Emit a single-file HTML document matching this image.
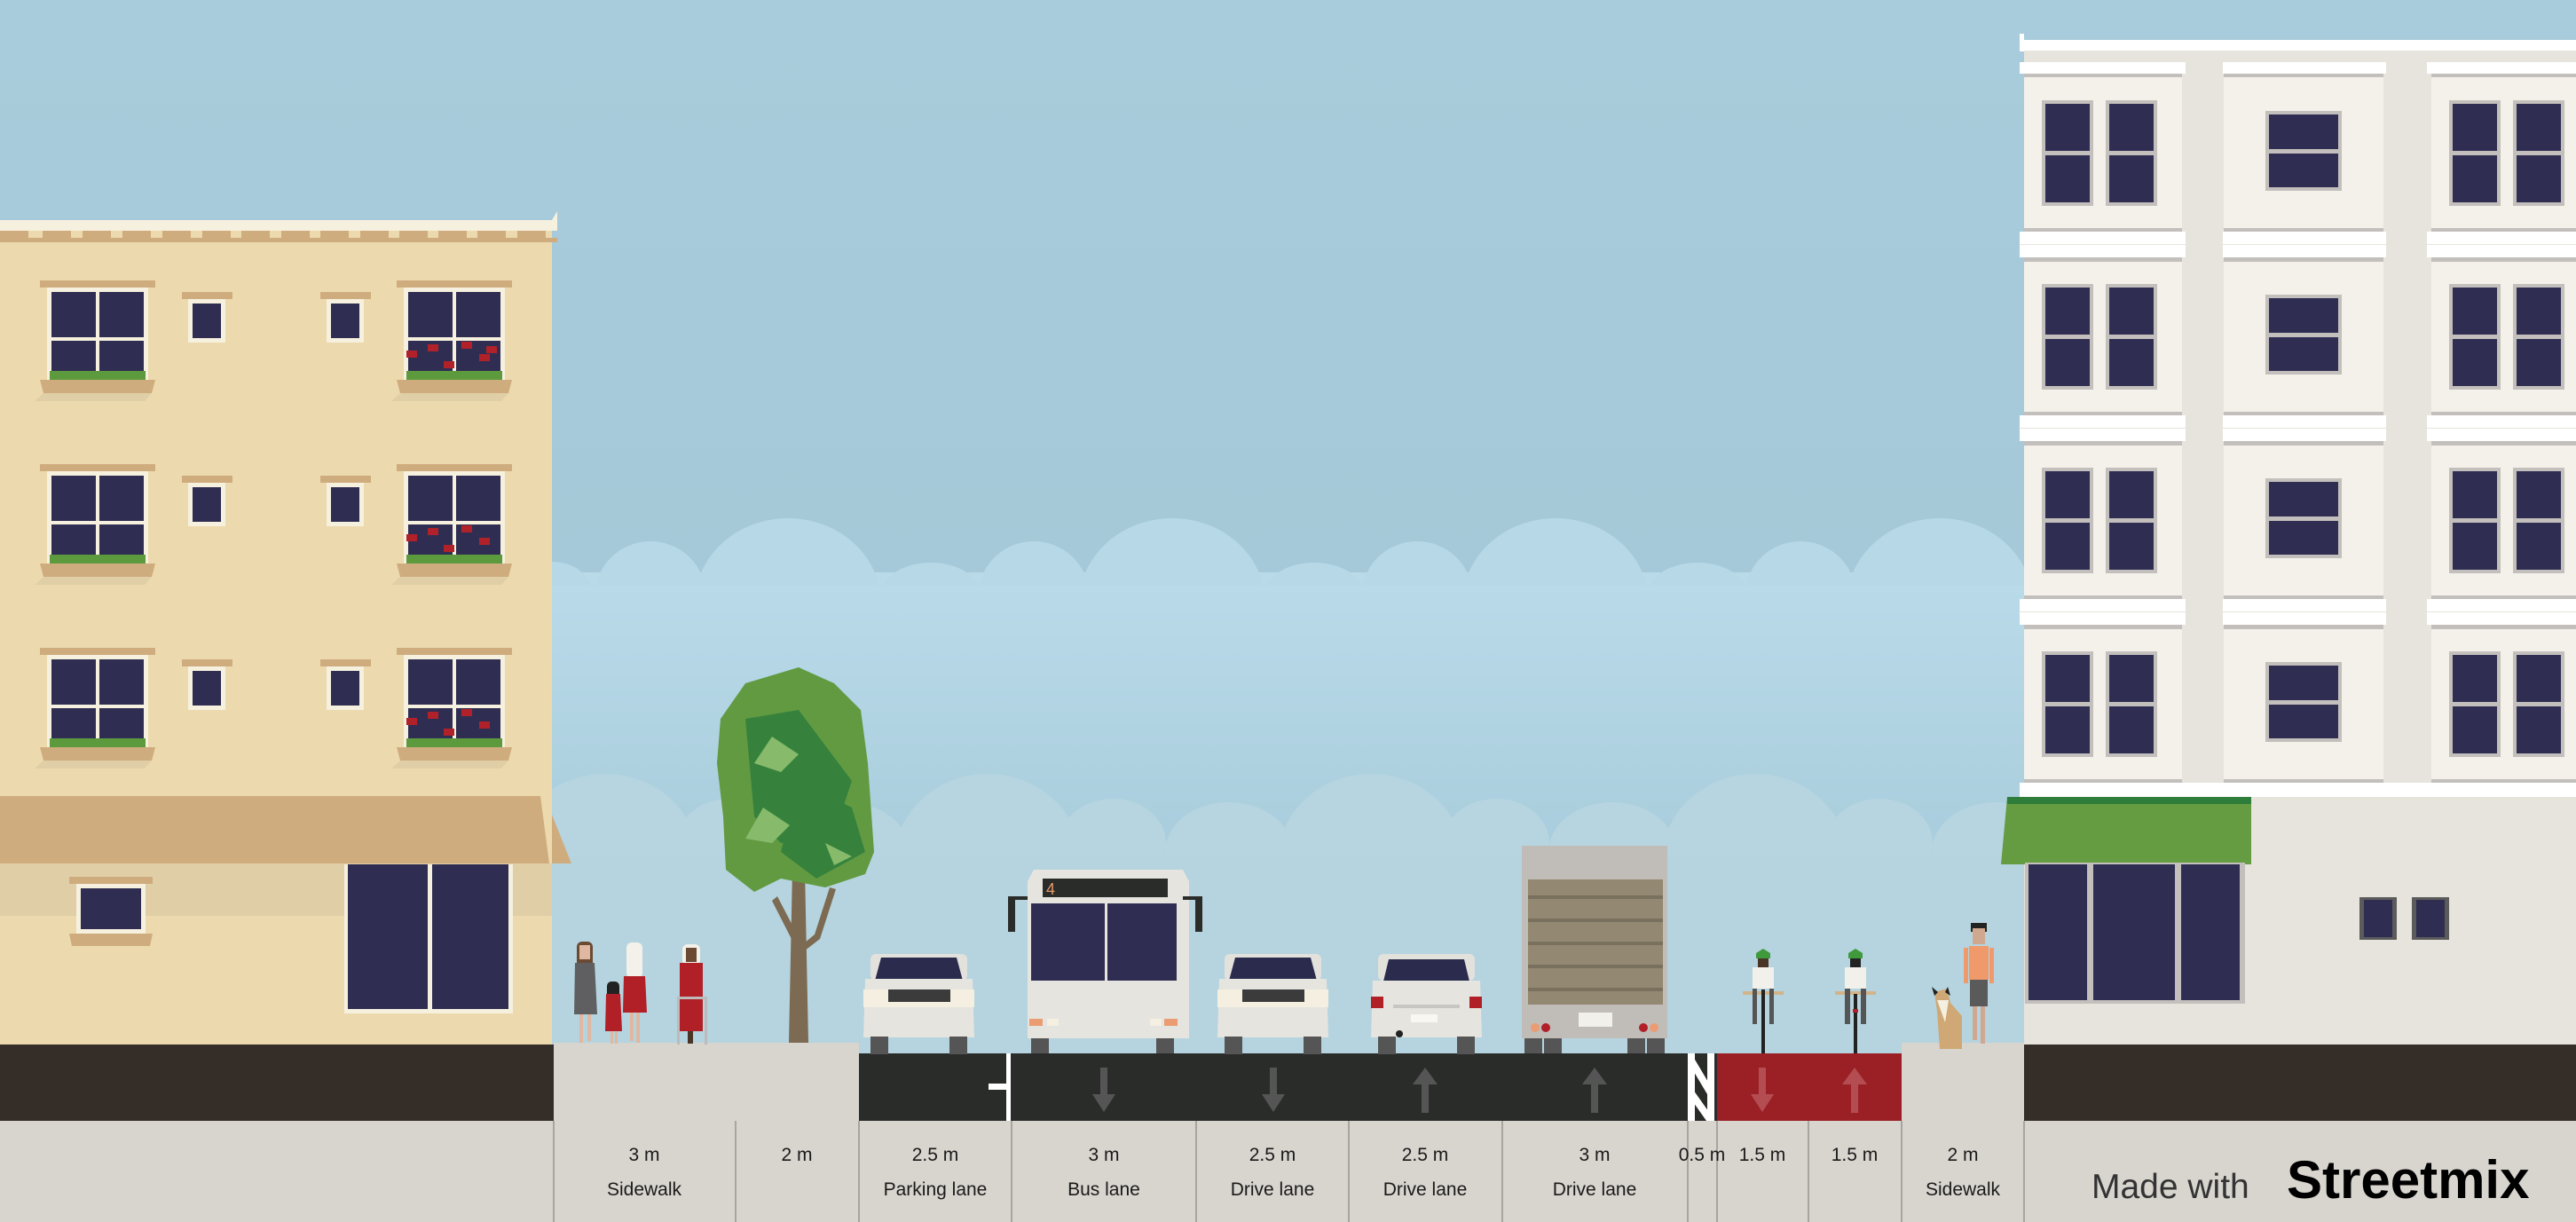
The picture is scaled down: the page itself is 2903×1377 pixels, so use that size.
<!DOCTYPE html>
<html><head><meta charset="utf-8"><style>
html,body{margin:0;padding:0;background:#a6cadb;}
svg{display:block}
text{font-family:"Liberation Sans",sans-serif;}
</style></head><body>
<svg width="2903" height="1377" viewBox="0 0 2903 1377" xmlns="http://www.w3.org/2000/svg">
<defs>
<linearGradient id="sky" x1="0" y1="0" x2="0" y2="1"><stop offset="0" stop-color="#a8ccdb"/><stop offset="1" stop-color="#a2c5d5"/></linearGradient>
<linearGradient id="c1" x1="0" y1="0" x2="0" y2="1"><stop offset="0" stop-color="#b9dae9"/><stop offset="1" stop-color="#a9cddc"/></linearGradient>
<linearGradient id="c2" x1="0" y1="0" x2="0" y2="1"><stop offset="0" stop-color="#b9d7e2"/><stop offset="1" stop-color="#b3d4e0"/></linearGradient>
<pattern id="hatch" width="20" height="40" patternUnits="userSpaceOnUse"><rect width="20" height="40" fill="#2a2c2a"/></pattern>
<g id="bigwin"><rect x="-8" y="-8" width="130" height="8" fill="#cfac7e"/><rect x="0" y="0" width="114" height="104" fill="#f6f0df"/><rect x="5" y="5" width="104" height="94" fill="#2f2e52"/><rect x="55" y="5" width="4" height="94" fill="#f6f0df"/><rect x="5" y="56" width="104" height="4" fill="#f6f0df"/><polygon points="-8,104 122,104 118,119 -4,119" fill="#cfac7e"/><polygon points="-4,119 118,119 110,128 -14,128" fill="#e0cea7"/><rect x="3" y="94" width="108" height="10" fill="#5d9a3e"/></g>
<g id="smwin"><rect x="-7" y="-8" width="57" height="8" fill="#cfac7e"/><rect x="0" y="0" width="42" height="49" fill="#f6f0df"/><rect x="5" y="5" width="32" height="39" fill="#2f2e52"/></g>
<g id="rwin2"><rect x="0" y="0" width="58" height="119" fill="#c3bfbc"/><rect x="4" y="4" width="50" height="111" fill="#2f2e52"/><rect x="4" y="57" width="50" height="5" fill="#c3bfbc"/><rect x="72" y="0" width="58" height="119" fill="#c3bfbc"/><rect x="76" y="4" width="50" height="111" fill="#2f2e52"/><rect x="76" y="57" width="50" height="5" fill="#c3bfbc"/></g>
<g id="rwin1"><rect x="0" y="0" width="86" height="90" fill="#c3bfbc"/><rect x="4" y="4" width="78" height="82" fill="#2f2e52"/><rect x="4" y="43" width="78" height="5" fill="#c3bfbc"/></g>
<g id="car"><rect x="8" y="0" width="109" height="30" rx="6" fill="#e3e1dc"/><polygon points="20,4 105,4 112,30 13,30" fill="#2a2b4d"/><polygon points="2,28 123,28 125,94 0,94" fill="#e6e4df"/><rect x="0" y="40" width="125" height="20" fill="#f4efe0"/><rect x="28" y="40" width="70" height="14" fill="#3b3b3b"/><rect x="8" y="93" width="20" height="20" fill="#555"/><rect x="97" y="93" width="20" height="20" fill="#555"/></g>
<g id="pers"><rect x="-6" y="0" width="14" height="20" fill="#6b4a34" rx="5"/><rect x="-4" y="4" width="10" height="14" fill="#e0b7a0"/></g>
</defs>
<rect width="2903" height="1377" fill="url(#sky)"/>
<!-- clouds layer 1 -->
<g fill="url(#c1)">
<rect x="600" y="645" width="1700" height="560"/>
</g>
<g fill="#b7d8e7">
<ellipse cx="888" cy="680" rx="105" ry="96"/><ellipse cx="1321" cy="680" rx="105" ry="96"/><ellipse cx="1753" cy="680" rx="105" ry="96"/><ellipse cx="2186" cy="680" rx="105" ry="96"/>
<ellipse cx="733" cy="670" rx="62" ry="60"/><ellipse cx="1165" cy="670" rx="62" ry="60"/><ellipse cx="1597" cy="670" rx="62" ry="60"/><ellipse cx="2029" cy="670" rx="62" ry="60"/>
<ellipse cx="1049" cy="668" rx="55" ry="34"/><ellipse cx="1481" cy="668" rx="55" ry="34"/><ellipse cx="1913" cy="668" rx="55" ry="34"/><ellipse cx="622" cy="668" rx="45" ry="35"/>
</g>
<rect x="600" y="660" width="1700" height="300" fill="url(#c1)"/>
<!-- clouds layer 2 -->
<g fill="#b6d5e1">
<ellipse cx="682" cy="970" rx="105" ry="98"/><ellipse cx="1113" cy="970" rx="105" ry="98"/><ellipse cx="1545" cy="970" rx="105" ry="98"/><ellipse cx="1978" cy="970" rx="105" ry="98"/>
<ellipse cx="1254" cy="950" rx="60" ry="50"/><ellipse cx="1385" cy="960" rx="72" ry="56"/><ellipse cx="1686" cy="950" rx="60" ry="50"/><ellipse cx="1817" cy="960" rx="72" ry="56"/><ellipse cx="822" cy="950" rx="60" ry="50"/><ellipse cx="953" cy="960" rx="72" ry="56"/><ellipse cx="2118" cy="950" rx="60" ry="50"/><ellipse cx="2249" cy="960" rx="72" ry="56"/>
</g>
<rect x="600" y="965" width="1700" height="240" fill="#b5d4df"/>

<!-- left building -->
<rect x="0" y="260" width="622" height="920" fill="#ecdaae"/>
<rect x="0" y="248" width="628" height="12" fill="#f6f0df"/>
<polygon points="628,238 628,248 622,248" fill="#f6f0df"/>
<g fill="#cfac7e">
<rect x="0" y="268" width="628" height="5"/>
<rect x="0" y="260" width="32" height="8"/><rect x="48" y="260" width="32" height="8"/><rect x="93" y="260" width="32" height="8"/><rect x="138" y="260" width="32" height="8"/><rect x="183" y="260" width="32" height="8"/><rect x="228" y="260" width="32" height="8"/><rect x="272" y="260" width="32" height="8"/><rect x="317" y="260" width="32" height="8"/><rect x="361" y="260" width="32" height="8"/><rect x="406" y="260" width="32" height="8"/><rect x="450" y="260" width="32" height="8"/><rect x="494" y="260" width="32" height="8"/><rect x="538" y="260" width="32" height="8"/><rect x="583" y="260" width="32" height="8"/>
</g>
<use href="#bigwin" x="53" y="324"/><use href="#smwin" x="212" y="337"/><use href="#smwin" x="368" y="337"/><use href="#bigwin" x="455" y="324"/>
<use href="#bigwin" x="53" y="531"/><use href="#smwin" x="212" y="544"/><use href="#smwin" x="368" y="544"/><use href="#bigwin" x="455" y="531"/>
<use href="#bigwin" x="53" y="738"/><use href="#smwin" x="212" y="751"/><use href="#smwin" x="368" y="751"/><use href="#bigwin" x="455" y="738"/>
<g fill="#b12129"><rect x="458" y="395" width="12" height="8"/><rect x="482" y="388" width="12" height="8"/><rect x="500" y="407" width="12" height="8"/><rect x="520" y="385" width="12" height="8"/><rect x="540" y="399" width="12" height="8"/><rect x="548" y="390" width="12" height="8"/>
<rect x="458" y="602" width="12" height="8"/><rect x="482" y="595" width="12" height="8"/><rect x="500" y="614" width="12" height="8"/><rect x="520" y="592" width="12" height="8"/><rect x="540" y="606" width="12" height="8"/>
<rect x="458" y="809" width="12" height="8"/><rect x="482" y="802" width="12" height="8"/><rect x="500" y="821" width="12" height="8"/><rect x="520" y="799" width="12" height="8"/><rect x="540" y="813" width="12" height="8"/></g>
<rect x="0" y="973" width="622" height="59" fill="#e0cea7"/>
<polygon points="0,897 609,897 619,973 0,973" fill="#cfac7e"/>
<polygon points="622,918 644,973 622,973" fill="#cfac7e"/>
<rect x="78" y="988" width="94" height="8" fill="#cfac7e"/>
<rect x="86" y="996" width="78" height="56" fill="#f6f0df"/><rect x="91" y="1001" width="68" height="46" fill="#2f2e52"/>
<polygon points="78,1052 172,1052 169,1066 81,1066" fill="#cfac7e"/>
<rect x="388" y="974" width="190" height="168" fill="#f6f0df"/><rect x="392" y="974" width="90" height="163" fill="#2f2e52"/><rect x="487" y="974" width="86" height="163" fill="#2f2e52"/>

<!-- right building -->
<rect x="2281" y="57" width="622" height="1125" fill="#e6e4dd"/>
<rect x="2281" y="45" width="622" height="12" fill="#ffffff"/>
<rect x="2276" y="38" width="5" height="20" fill="#ffffff"/>
<g>
<rect x="2281" y="70" width="178" height="810" fill="#f3f1ea"/><rect x="2506" y="70" width="180" height="810" fill="#f3f1ea"/><rect x="2740" y="70" width="163" height="810" fill="#f3f1ea"/>
</g>
<g fill="#ffffff">
<rect x="2276" y="70" width="187" height="13"/><rect x="2505" y="70" width="184" height="13"/><rect x="2735" y="70" width="168" height="13"/>
</g>
<g fill="#c3bfbc"><rect x="2281" y="83" width="178" height="4"/><rect x="2506" y="83" width="180" height="4"/><rect x="2740" y="83" width="163" height="4"/></g>
<g id="cor">
<rect x="2281" y="257" width="178" height="4" fill="#c3bfbc"/><rect x="2506" y="257" width="180" height="4" fill="#c3bfbc"/><rect x="2740" y="257" width="163" height="4" fill="#c3bfbc"/>
<rect x="2276" y="261" width="187" height="29" fill="#fff"/><rect x="2505" y="261" width="184" height="29" fill="#fff"/><rect x="2735" y="261" width="168" height="29" fill="#fff"/>
<rect x="2276" y="275" width="627" height="1" fill="#e6e4dd"/>
<rect x="2281" y="290" width="178" height="5" fill="#c3bfbc"/><rect x="2506" y="290" width="180" height="5" fill="#c3bfbc"/><rect x="2740" y="290" width="163" height="5" fill="#c3bfbc"/>
</g>
<use href="#cor" y="207"/><use href="#cor" y="414"/>
<rect x="2281" y="878" width="178" height="4" fill="#c3bfbc"/><rect x="2506" y="878" width="180" height="4" fill="#c3bfbc"/><rect x="2740" y="878" width="163" height="4" fill="#c3bfbc"/>
<rect x="2276" y="882" width="627" height="16" fill="#fff"/>
<use href="#rwin2" x="2301" y="113"/><use href="#rwin1" x="2553" y="125"/><use href="#rwin2" x="2760" y="113"/>
<use href="#rwin2" x="2301" y="320"/><use href="#rwin1" x="2553" y="332"/><use href="#rwin2" x="2760" y="320"/>
<use href="#rwin2" x="2301" y="527"/><use href="#rwin1" x="2553" y="539"/><use href="#rwin2" x="2760" y="527"/>
<use href="#rwin2" x="2301" y="734"/><use href="#rwin1" x="2553" y="746"/><use href="#rwin2" x="2760" y="734"/>
<polygon points="2262,898 2537,898 2537,974 2255,974" fill="#659c41"/>
<rect x="2262" y="898" width="275" height="8" fill="#2f7d3a"/>
<rect x="2282" y="972" width="248" height="159" fill="#c3bfbc"/>
<rect x="2286" y="974" width="66" height="153" fill="#2f2e52"/><rect x="2359" y="974" width="92" height="153" fill="#2f2e52"/><rect x="2458" y="974" width="66" height="153" fill="#2f2e52"/>
<rect x="2659" y="1011" width="42" height="48" fill="#5b5b5b"/><rect x="2664" y="1014" width="32" height="42" fill="#2f2e52"/>
<rect x="2718" y="1011" width="42" height="48" fill="#5b5b5b"/><rect x="2723" y="1014" width="32" height="42" fill="#2f2e52"/>

<!-- ground -->
<rect x="0" y="1177" width="624" height="86" fill="#352d28"/>
<rect x="2281" y="1177" width="622" height="86" fill="#352d28"/>
<rect x="624" y="1175" width="344" height="88" fill="#d8d4ce"/>
<rect x="2143" y="1175" width="138" height="88" fill="#d8d4ce"/>
<rect x="968" y="1187" width="967" height="76" fill="#2a2c2a"/>
<rect x="1935" y="1187" width="208" height="76" fill="#9b2026"/>
<!-- hatch buffer -->
<g stroke="#ffffff" stroke-width="8"><line x1="1906" y1="1187" x2="1906" y2="1263"/><line x1="1928" y1="1187" x2="1928" y2="1263"/><line x1="1906" y1="1195" x2="1928" y2="1232"/><line x1="1906" y1="1232" x2="1928" y2="1263"/></g>
<rect x="1134" y="1187" width="5" height="76" fill="#fff"/><rect x="1114" y="1221" width="22" height="7" fill="#fff"/>
<!-- arrows -->
<g fill="#555555">
<rect x="1240" y="1203" width="8" height="32"/><polygon points="1231,1233 1257,1233 1244,1253"/>
<rect x="1431" y="1203" width="8" height="32"/><polygon points="1422,1233 1448,1233 1435,1253"/>
<rect x="1602" y="1222" width="8" height="32"/><polygon points="1592,1222 1620,1222 1606,1203"/>
<rect x="1793" y="1222" width="8" height="32"/><polygon points="1783,1222 1811,1222 1797,1203"/>
</g>
<g fill="#b44d52">
<rect x="1982" y="1203" width="8" height="32"/><polygon points="1973,1233 1999,1233 1986,1253"/>
<rect x="2086" y="1222" width="8" height="32"/><polygon points="2076,1222 2104,1222 2090,1203"/>
</g>

<!-- labels band -->
<rect x="0" y="1263" width="2903" height="114" fill="#d8d4ce"/>
<g stroke="#a8a4a0" stroke-width="2">
<line x1="624" y1="1263" x2="624" y2="1377"/><line x1="829" y1="1263" x2="829" y2="1377"/><line x1="968" y1="1263" x2="968" y2="1377"/><line x1="1140" y1="1263" x2="1140" y2="1377"/><line x1="1348" y1="1263" x2="1348" y2="1377"/><line x1="1520" y1="1263" x2="1520" y2="1377"/><line x1="1693" y1="1263" x2="1693" y2="1377"/><line x1="1902" y1="1263" x2="1902" y2="1377"/><line x1="1935" y1="1263" x2="1935" y2="1377"/><line x1="2038" y1="1263" x2="2038" y2="1377"/><line x1="2143" y1="1263" x2="2143" y2="1377"/><line x1="2281" y1="1263" x2="2281" y2="1377"/>
</g>
<g font-size="21" fill="#1a1a1a" text-anchor="middle">
<text x="726" y="1308">3 m</text><text x="726" y="1347">Sidewalk</text>
<text x="898" y="1308">2 m</text>
<text x="1054" y="1308">2.5 m</text><text x="1054" y="1347">Parking lane</text>
<text x="1244" y="1308">3 m</text><text x="1244" y="1347">Bus lane</text>
<text x="1434" y="1308">2.5 m</text><text x="1434" y="1347">Drive lane</text>
<text x="1606" y="1308">2.5 m</text><text x="1606" y="1347">Drive lane</text>
<text x="1797" y="1308">3 m</text><text x="1797" y="1347">Drive lane</text>
<text x="1918" y="1308">0.5 m</text>
<text x="1986" y="1308">1.5 m</text><text x="2090" y="1308">1.5 m</text>
<text x="2212" y="1308">2 m</text><text x="2212" y="1347">Sidewalk</text>
</g>
<text x="2357" y="1350" font-size="39" fill="#333" font-weight="normal">Made with</text>
<text x="2577" y="1350" font-size="60" fill="#000" font-weight="bold">Streetmix</text>

<!-- tree -->
<g fill="#7c6a52"><polygon points="893,980 907,980 911,1175 889,1175"/><polygon points="870,1015 876,1010 902,1060 897,1068"/><polygon points="935,1000 942,1002 924,1058 902,1075 900,1068 918,1053"/></g>
<polygon points="840,770 900,752 940,770 970,800 978,860 985,960 975,985 930,1000 880,990 850,1005 818,980 815,920 808,860 812,810" fill="#629a41"/>
<polygon points="840,810 900,800 930,840 960,880 940,940 880,950 850,920" fill="#36823d"/>
<polygon points="900,880 960,910 975,960 920,990 880,960" fill="#36823d"/>
<polygon points="870,830 900,850 880,870 850,860" fill="#87ba6a"/>
<polygon points="860,910 890,930 870,950 840,945" fill="#87ba6a"/>
<polygon points="930,950 960,965 940,975" fill="#87ba6a"/>

<!-- people left -->
<g>
<rect x="650" y="1061" width="18" height="40" rx="6" fill="#6b4a34"/><rect x="653" y="1065" width="12" height="16" fill="#e0b7a0"/>
<polygon points="648,1085 670,1085 673,1143 647,1143" fill="#5f5f61"/><rect x="653" y="1143" width="4" height="32" fill="#e0b7a0"/><rect x="662" y="1143" width="4" height="30" fill="#e0b7a0"/>
<rect x="684" y="1106" width="14" height="20" rx="5" fill="#222"/><polygon points="683,1120 699,1120 701,1162 682,1162" fill="#b11f27"/><rect x="688" y="1162" width="3" height="14" fill="#e0b7a0"/><rect x="693" y="1162" width="3" height="14" fill="#e0b7a0"/>
<rect x="706" y="1062" width="18" height="40" rx="6" fill="#f4f1ea"/><polygon points="703,1100 727,1100 729,1141 702,1141" fill="#b11f27"/><rect x="710" y="1141" width="4" height="32" fill="#e0b7a0"/><rect x="717" y="1141" width="4" height="34" fill="#e0b7a0"/>
<rect x="769" y="1064" width="20" height="24" rx="6" fill="#f4f1ea"/><rect x="773" y="1068" width="12" height="16" fill="#6b4a34"/><polygon points="766,1085 792,1085 792,1162 766,1162" fill="#b11f27"/><rect x="763" y="1123" width="3" height="54" fill="#bbb"/><rect x="794" y="1123" width="3" height="54" fill="#bbb"/><rect x="763" y="1123" width="34" height="3" fill="#bbb"/><rect x="775" y="1162" width="6" height="14" fill="#4a3426"/>
</g>

<!-- vehicles -->
<use href="#car" x="973" y="1075"/>
<use href="#car" x="1372" y="1075"/>
<g transform="translate(1545,1075)"><rect x="8" y="0" width="109" height="30" rx="6" fill="#e3e1dc"/><polygon points="20,6 105,6 112,35 13,35" fill="#2a2b4d"/><polygon points="2,30 123,30 125,94 0,94" fill="#e6e4df"/><rect x="0" y="48" width="14" height="13" fill="#b11f27"/><rect x="111" y="48" width="14" height="13" fill="#b11f27"/><rect x="25" y="57" width="75" height="4" fill="#c8c6c2"/><rect x="45" y="68" width="30" height="9" fill="#f8f7f2"/><rect x="8" y="93" width="20" height="20" fill="#555"/><rect x="97" y="93" width="20" height="20" fill="#555"/><circle cx="32" cy="90" r="4" fill="#222"/></g>
<!-- bus -->
<g>
<polygon points="1165,980 1333,980 1340,993 1340,1170 1158,1170 1158,993" fill="#e6e4df"/>
<rect x="1175" y="990" width="141" height="21" fill="#2a2c2a"/><text x="1179" y="1008" font-size="18" fill="#e89a6a">4</text>
<rect x="1162" y="1018" width="83" height="87" fill="#2f2e52"/><rect x="1248" y="1018" width="78" height="87" fill="#2f2e52"/>
<rect x="1136" y="1010" width="8" height="40" fill="#2a2c2a"/><rect x="1136" y="1010" width="22" height="4" fill="#2a2c2a"/>
<rect x="1347" y="1010" width="8" height="40" fill="#2a2c2a"/><rect x="1333" y="1010" width="22" height="4" fill="#2a2c2a"/>
<rect x="1160" y="1148" width="15" height="8" fill="#eb9c72"/><rect x="1180" y="1148" width="13" height="8" fill="#f4efe0"/><rect x="1312" y="1148" width="15" height="8" fill="#eb9c72"/><rect x="1296" y="1148" width="13" height="8" fill="#f4efe0"/>
<rect x="1162" y="1170" width="20" height="17" fill="#555"/><rect x="1303" y="1170" width="20" height="17" fill="#555"/>
</g>
<!-- truck -->
<g>
<rect x="1715" y="953" width="164" height="217" fill="#c0bcb8"/>
<rect x="1722" y="991" width="152" height="141" fill="#938871"/>
<g fill="#7a705e"><rect x="1722" y="1009" width="152" height="4"/><rect x="1722" y="1035" width="152" height="4"/><rect x="1722" y="1061" width="152" height="4"/><rect x="1722" y="1087" width="152" height="4"/><rect x="1722" y="1113" width="152" height="4"/></g>
<rect x="1779" y="1141" width="38" height="16" fill="#f1f0ea"/>
<circle cx="1730" cy="1158" r="5" fill="#eb9c72"/><circle cx="1742" cy="1158" r="5" fill="#b11f27"/><circle cx="1852" cy="1158" r="5" fill="#b11f27"/><circle cx="1864" cy="1158" r="5" fill="#eb9c72"/>
<rect x="1718" y="1170" width="20" height="17" fill="#555"/><rect x="1740" y="1170" width="20" height="17" fill="#555"/><rect x="1834" y="1170" width="20" height="17" fill="#555"/><rect x="1856" y="1170" width="20" height="17" fill="#555"/>
</g>
<!-- cyclists -->
<g>
<polygon points="1979,1074 1987,1069 1995,1074 1995,1080 1979,1080" fill="#3f9a3c"/><rect x="1981" y="1080" width="12" height="12" fill="#4a3426"/>
<rect x="1975" y="1090" width="24" height="24" fill="#f2f0ea"/><rect x="1964" y="1117" width="46" height="4" fill="#d2b48a"/>
<rect x="1975" y="1114" width="5" height="40" fill="#555"/><rect x="1994" y="1114" width="5" height="40" fill="#555"/>
<rect x="1985" y="1115" width="4" height="72" fill="#222"/>
<polygon points="2083,1074 2091,1069 2099,1074 2099,1080 2083,1080" fill="#3f9a3c"/><rect x="2085" y="1080" width="12" height="10" fill="#222"/>
<rect x="2079" y="1090" width="24" height="24" fill="#f2f0ea"/><rect x="2068" y="1117" width="46" height="4" fill="#d2b48a"/>
<rect x="2079" y="1114" width="6" height="40" fill="#555"/><rect x="2097" y="1114" width="6" height="40" fill="#555"/>
<rect x="2089" y="1120" width="4" height="67" fill="#222"/><rect x="2088" y="1137" width="6" height="4" fill="#b11f27"/>
</g>
<!-- pedestrian + dog -->
<g>
<rect x="2221" y="1040" width="18" height="10" fill="#222"/><rect x="2223" y="1046" width="14" height="18" fill="#d0a890"/>
<rect x="2219" y="1066" width="22" height="38" fill="#f09a6c"/><rect x="2213" y="1068" width="5" height="40" fill="#f09a6c"/><rect x="2242" y="1068" width="5" height="40" fill="#f09a6c"/>
<rect x="2220" y="1104" width="20" height="30" fill="#5a5a5a"/><rect x="2223" y="1134" width="5" height="38" fill="#d0a890"/><rect x="2232" y="1134" width="5" height="42" fill="#d0a890"/>
<polygon points="2180,1118 2194,1114 2198,1130 2211,1145 2211,1182 2186,1182 2183,1140" fill="#cfa875"/>
<polygon points="2183,1127 2196,1127 2192,1152" fill="#f4efe0"/><polygon points="2177,1112 2184,1118 2180,1122" fill="#222"/><polygon points="2195,1112 2198,1122 2192,1118" fill="#222"/>
</g>
</svg>
</body></html>
